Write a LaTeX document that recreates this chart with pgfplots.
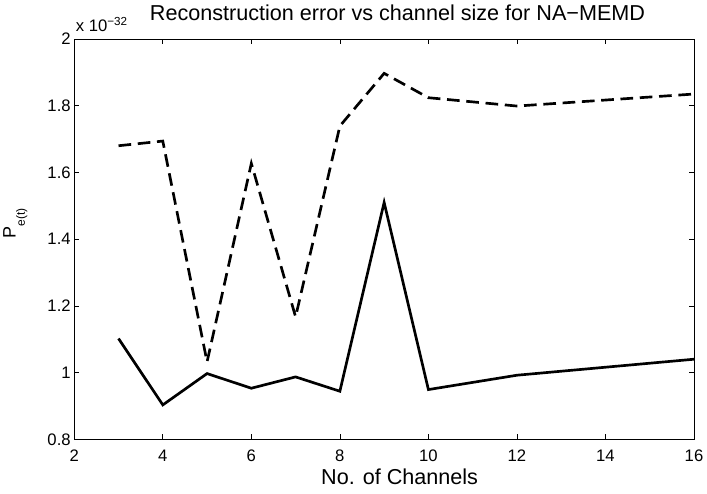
\documentclass[border=0pt]{standalone}
\usepackage{fontspec}
\setmainfont{Liberation Sans}
\usepackage{pgfplots}
\pgfplotsset{compat=1.18}
\begin{document}
\begin{tikzpicture}
\begin{axis}[
  scale only axis,
  width=464.8pt, height=300.2pt,
  xmin=2, xmax=16, ymin=0.8, ymax=2,
  xtick={2,4,...,16},
  ytick={0.8,1,1.2,1.4,1.6,1.8,2},
  yticklabels={0.8,1,1.2,1.4,1.6,1.8,2},
  tick align=inside,
  major tick length=3.75pt,
  tick style={black, line width=0.5pt},
  axis line style={line width=0.75pt},
  /pgf/number format/assume math mode=true,
  ticklabel style={font=\fontsize{12.5}{14}\selectfont},
  xticklabel style={anchor=base, yshift=-16.5pt, inner sep=0pt},
  yticklabel style={anchor=east, inner sep=0pt, xshift=-2.5pt},
  xlabel={No. of Channels},
  xlabel style={font=\fontsize{16.2}{18}\selectfont, at={(axis description cs:0.525,0)}, anchor=base, yshift=-33.7pt, inner sep=0pt},
  ylabel={P\raisebox{-7pt}{\fontsize{9}{10}\selectfont e(t)}},
  ylabel style={font=\fontsize{13.5}{15}\selectfont, at={(axis description cs:0,0.5)}, anchor=base, rotate=0, yshift=44pt, xshift=12pt, inner sep=0pt},
  clip=false,
]
\addplot[black, line width=2pt] coordinates {
  (3,1.102) (4,0.903) (5,0.997) (6,0.953) (7,0.987) (8,0.944) (9,1.51) (10,0.949) (12,0.992) (16,1.04)
};
\addplot[black, line width=2pt, dash pattern=on 9.5pt off 5pt] coordinates {
  (3,1.68) (4,1.694) (5,1.032) (6,1.627) (7,1.167) (8,1.739) (9,1.897) (10,1.824) (12,1.799) (16,1.835)
};
\node[anchor=base west, inner sep=0pt, font=\fontsize{12.5}{14}\selectfont] at (rel axis cs:0,1) [yshift=5.5pt, xshift=1pt] {x 10\textsuperscript{\char"2212 32}};
\node[anchor=base, inner sep=0pt, font=\fontsize{16.2}{18}\selectfont] at (rel axis cs:0.5216,1) [yshift=13.7pt] {Reconstruction error vs channel size for NA\char"2212 MEMD};
\end{axis}
\pgfresetboundingbox
\path[use as bounding box] ([xshift=-55.7pt,yshift=-41pt]current axis.south west) rectangle ([xshift=9.75pt,yshift=29.25pt]current axis.north east);
\end{tikzpicture}
\end{document}
